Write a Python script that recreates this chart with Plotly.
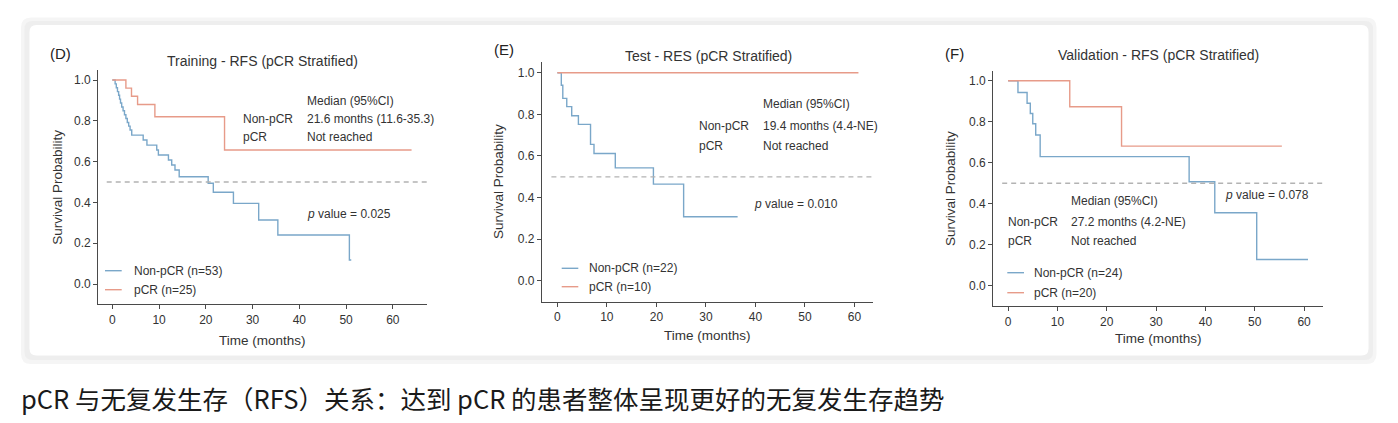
import plotly.graph_objects as go

W, H = 1398, 423

# ---------------- data ----------------
d_non_t = [0, 0.6, 0.85, 1.1, 1.35, 1.55, 1.75, 2.0, 2.3, 2.6, 2.9, 3.2, 3.5, 3.8, 4.15, 6.6, 7.4, 9.5, 9.85,
           12.0, 12.7, 13.4, 14.3, 20.5, 21.6, 25.9, 31.3, 35.4, 50.7, 51.1]
d_non_s = [1.0, 0.981, 0.962, 0.943, 0.925, 0.906, 0.887, 0.868, 0.849, 0.830, 0.811, 0.792, 0.774, 0.755, 0.730,
           0.706, 0.681, 0.657, 0.632, 0.608, 0.583, 0.559, 0.526, 0.494, 0.450, 0.395, 0.314, 0.240, 0.118, 0.118]
d_pcr_t = [0, 2.9, 4.1, 5.4, 9.1, 24.0, 64.0]
d_pcr_s = [1.0, 0.96, 0.92, 0.88, 0.82, 0.657, 0.657]

e_non_t = [0, 0.8, 1.1, 1.9, 2.9, 4.25, 6.7, 7.4, 11.7, 19.4, 25.5, 36.4]
e_non_s = [1.0, 0.94, 0.877, 0.837, 0.793, 0.752, 0.656, 0.612, 0.543, 0.465, 0.308, 0.308]
e_pcr_t = [0, 60.8]
e_pcr_s = [1.0, 1.0]

f_non_t = [0, 2.0, 3.85, 4.5, 5.0, 5.6, 6.5, 36.7, 41.9, 50.4, 60.8]
f_non_s = [1.0, 0.943, 0.89, 0.84, 0.79, 0.735, 0.63, 0.507, 0.356, 0.128, 0.128]
f_pcr_t = [0, 12.5, 23.0, 55.5]
f_pcr_s = [1.0, 0.873, 0.681, 0.681]

x_ticks = [0, 10, 20, 30, 40, 50, 60]
y_ticks = [0.0, 0.2, 0.4, 0.6, 0.8, 1.0]

panel_letters = ["(D)", "(E)", "(F)"]
panel_titles = ["Training - RFS (pCR Stratified)", "Test - RES (pCR Stratified)",
                "Validation - RFS (pCR Stratified)"]
non_labels = ["Non-pCR (n=53)", "Non-pCR (n=22)", "Non-pCR (n=24)"]
pcr_labels = ["pCR (n=25)", "pCR (n=10)", "pCR (n=20)"]
median_non = ["21.6 months (11.6-35.3)", "19.4 months (4.4-NE)", "27.2 months (4.2-NE)"]
median_pcr = ["Not reached", "Not reached", "Not reached"]
p_values = ["0.025", "0.010", "0.078"]
caption = "pCR 与无复发生存（RFS）关系：达到 pCR 的患者整体呈现更好的无复发生存趋势"

BLUE = "#7aa7c9"
RED = "#e79b89"
TXT = "#333333"
FONT = "Liberation Sans, Arial, sans-serif"


def fx(px):
    return px / W


def fy(py):
    return 1 - py / H


# layout geometry (pixels) per panel
panels = [
    dict(xd=(98.3, 427.0), yd=(70.0, 304.0), xr=(-3.0, 67.3), yr=(-0.098, 1.049),
         letter=(48.3, 53.3), title=(262.5, 60.7), ytitle=(56.7, 187.0), xtitle=(262.5, 340.7),
         med_x=305.0, lab_x=240.7, med_y=(100.7, 119.3, 137.3), p=(305.0, 214.3),
         leg=(105.0, 121.7, 131.7, 270.7, 289.7)),
    dict(xd=(542.0, 873.3), yd=(61.7, 301.7), xr=(-3.1, 63.8), yr=(-0.1, 1.053),
         letter=(491.7, 50.0), title=(708.3, 55.7), ytitle=(498.3, 181.7), xtitle=(707.6, 335.0),
         med_x=761.0, lab_x=696.7, med_y=(104.0, 126.0, 145.7), p=(751.7, 204.3),
         leg=(561.7, 578.3, 587.3, 268.3, 286.7)),
    dict(xd=(993.3, 1323.3), yd=(70.7, 306.0), xr=(-3.0, 63.9), yr=(-0.099, 1.049),
         letter=(943.3, 54.0), title=(1158.0, 55.0), ytitle=(950.7, 188.3), xtitle=(1158.3, 338.3),
         med_x=1069.3, lab_x=1006.0, med_y=(200.7, 221.7, 241.0), p=(1222.7, 195.0),
         leg=(1007.3, 1024.0, 1031.7, 272.7, 292.7)),
]

series = [
    (d_non_t, d_non_s, d_pcr_t, d_pcr_s),
    (e_non_t, e_non_s, e_pcr_t, e_pcr_s),
    (f_non_t, f_non_s, f_pcr_t, f_pcr_s),
]


def rounded_rect(x0, y0, x1, y1, r):
    pts = [
        f"M {fx(x0 + r)} {fy(y0)}",
        f"L {fx(x1 - r)} {fy(y0)}",
        f"Q {fx(x1)} {fy(y0)} {fx(x1)} {fy(y0 + r)}",
        f"L {fx(x1)} {fy(y1 - r)}",
        f"Q {fx(x1)} {fy(y1)} {fx(x1 - r)} {fy(y1)}",
        f"L {fx(x0 + r)} {fy(y1)}",
        f"Q {fx(x0)} {fy(y1)} {fx(x0)} {fy(y1 - r)}",
        f"L {fx(x0)} {fy(y0 + r)}",
        f"Q {fx(x0)} {fy(y0)} {fx(x0 + r)} {fy(y0)}",
        "Z",
    ]
    return " ".join(pts)


fig = go.Figure()
shapes = []
annotations = []

# card background with soft border
shapes.append(dict(type="path", xref="paper", yref="paper", layer="below",
                   path=rounded_rect(21.0, 17.5, 1376.5, 364.0, 10),
                   fillcolor="#f5f5f5", line=dict(width=0)))
shapes.append(dict(type="path", xref="paper", yref="paper", layer="below",
                   path=rounded_rect(24.5, 21.0, 1373.0, 360.0, 8),
                   fillcolor="#eeeeee", line=dict(width=0)))
shapes.append(dict(type="path", xref="paper", yref="paper", layer="below",
                   path=rounded_rect(29.5, 25.0, 1368.5, 355.5, 7),
                   fillcolor="#ffffff", line=dict(width=0)))

for i, (pn, sr) in enumerate(zip(panels, series)):
    n = "" if i == 0 else str(i + 1)
    xa, ya = "x" + n, "y" + n
    nt, ns, pt, ps = sr
    fig.add_trace(go.Scatter(x=nt, y=ns, mode="lines", line=dict(color=BLUE, width=1.4, shape="hv"),
                             name=non_labels[i], showlegend=False, xaxis=xa, yaxis=ya))
    fig.add_trace(go.Scatter(x=pt, y=ps, mode="lines", line=dict(color=RED, width=1.4, shape="hv"),
                             name=pcr_labels[i], showlegend=False, xaxis=xa, yaxis=ya))

    axis_common = dict(showgrid=False, zeroline=False, showline=True, linecolor="#4a4a4a", linewidth=1.3,
                       ticks="outside", ticklen=4, tickwidth=1.1, tickcolor="#4a4a4a",
                       tickfont=dict(family=FONT, size=12, color=TXT), fixedrange=True)
    fig.update_layout(**{
        "xaxis" + n: dict(domain=[fx(pn["xd"][0]), fx(pn["xd"][1])], range=list(pn["xr"]),
                          tickvals=x_ticks, anchor=ya, **axis_common),
        "yaxis" + n: dict(domain=[fy(pn["yd"][1]), fy(pn["yd"][0])], range=list(pn["yr"]),
                          tickvals=y_ticks, tickformat=".1f", anchor=xa, **axis_common),
    })

    # dashed median reference line
    shapes.append(dict(type="line", xref=xa, yref=ya, x0=-1.2, x1=pn["xr"][1], y0=0.5, y1=0.5,
                       line=dict(color="#b3b3b3", width=1.3, dash="5px,4px")))

    def ann(text, px, py, size=12, xanchor="left", **kw):
        annotations.append(dict(text=text, x=fx(px), y=fy(py), xref="paper", yref="paper",
                                xanchor=xanchor, yanchor="middle", showarrow=False,
                                font=dict(family=FONT, size=size, color=kw.get("color", TXT)),
                                textangle=kw.get("angle", 0)))

    ann(panel_letters[i], pn["letter"][0], pn["letter"][1], size=15, color="#222222")
    ann(panel_titles[i], pn["title"][0], pn["title"][1], size=14, xanchor="center")
    ann("Survival Probability", pn["ytitle"][0], pn["ytitle"][1], size=13.5, xanchor="center", angle=-90)
    ann("Time (months)", pn["xtitle"][0], pn["xtitle"][1], size=13.5, xanchor="center")
    ann("Median (95%CI)", pn["med_x"], pn["med_y"][0])
    ann("Non-pCR", pn["lab_x"], pn["med_y"][1])
    ann(median_non[i], pn["med_x"], pn["med_y"][1])
    ann("pCR", pn["lab_x"], pn["med_y"][2])
    ann(median_pcr[i], pn["med_x"], pn["med_y"][2])
    ann("<i>p</i> value = " + p_values[i], pn["p"][0], pn["p"][1])

    # legend
    lx0, lx1, ltx, ly1, ly2 = pn["leg"]
    shapes.append(dict(type="line", xref="paper", yref="paper", x0=fx(lx0), x1=fx(lx1),
                       y0=fy(ly1), y1=fy(ly1), line=dict(color=BLUE, width=1.4)))
    shapes.append(dict(type="line", xref="paper", yref="paper", x0=fx(lx0), x1=fx(lx1),
                       y0=fy(ly2), y1=fy(ly2), line=dict(color=RED, width=1.4)))
    ann(non_labels[i], ltx, ly1)
    ann(pcr_labels[i], ltx, ly2)

annotations.append(dict(text=caption, x=fx(19.0), y=fy(397.0), xref="paper", yref="paper",
                        xanchor="left", yanchor="middle", showarrow=False,
                        font=dict(family="Noto Sans CJK SC, sans-serif", size=25.5, color="#1a1a1a")))

fig.update_layout(width=W, height=H, margin=dict(l=0, r=0, t=0, b=0),
                  paper_bgcolor="#ffffff", plot_bgcolor="rgba(0,0,0,0)",
                  showlegend=False, shapes=shapes, annotations=annotations)

fig.write_html("out.html", config={"displayModeBar": False},
               post_script="document.body.style.margin='0';document.body.style.padding='0';"
                           "document.body.style.overflow='hidden';")
